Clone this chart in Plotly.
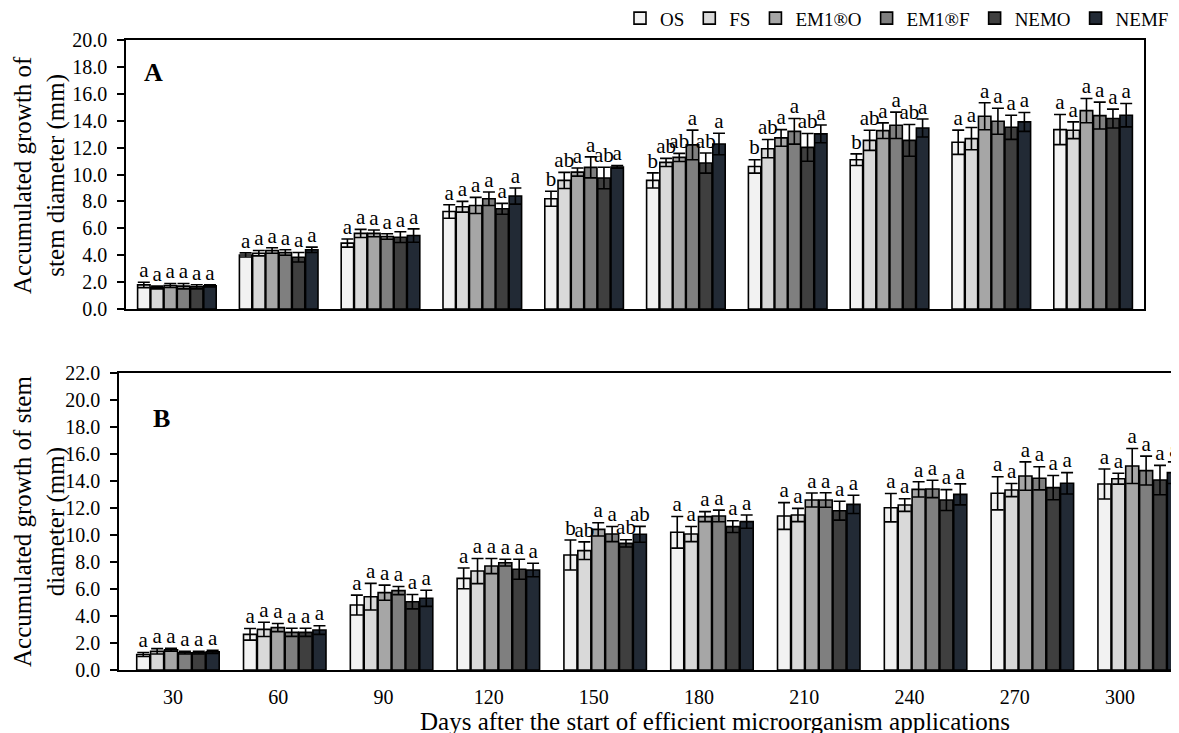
import plotly.graph_objects as go

# page body has an 8px margin: figure occupies 8..1179 x 8..733 of the window
OFF = 8
W, H = 1179 - OFF, 733 - OFF
days = ["30", "60", "90", "120", "150", "180", "210", "240", "270", "300"]
series = ["OS", "FS", "EM1®O", "EM1®F", "NEMO", "NEMF"]
colors = ["#f2f2f2", "#d9d9d9", "#a6a6a6", "#7f7f7f", "#3f3f3f", "#222a35"]

# Panel A: means
A_OS   = [1.79, 4.02, 4.90, 7.25, 8.20, 9.56, 10.60, 11.10, 12.40, 13.34]
A_FS   = [1.60, 4.15, 5.62, 7.60, 9.56, 10.90, 11.92, 12.54, 12.67, 13.29]
A_EM1O = [1.75, 4.35, 5.62, 7.70, 10.18, 11.27, 12.72, 13.26, 14.33, 14.75]
A_EM1F = [1.70, 4.20, 5.39, 8.20, 10.53, 12.20, 13.21, 13.66, 13.96, 14.38]
A_NEMO = [1.65, 3.85, 5.34, 7.45, 9.74, 10.85, 12.02, 12.54, 13.51, 14.16]
A_NEMF = [1.72, 4.40, 5.46, 8.40, 10.56, 12.27, 13.02, 13.46, 13.91, 14.41]
# Panel A: errors
A_OS_e   = [0.20, 0.15, 0.30, 0.50, 0.56, 0.56, 0.50, 0.43, 0.90, 1.12]
A_FS_e   = [0.10, 0.20, 0.30, 0.40, 0.60, 0.30, 0.68, 0.75, 0.83, 0.62]
A_EM1O_e = [0.15, 0.20, 0.25, 0.60, 0.30, 0.30, 0.62, 0.58, 1.00, 0.90]
A_EM1F_e = [0.20, 0.20, 0.20, 0.50, 0.78, 1.10, 0.95, 0.98, 0.97, 1.00]
A_NEMO_e = [0.15, 0.35, 0.40, 0.40, 0.80, 0.75, 1.03, 1.18, 0.90, 0.70]
A_NEMF_e = [0.08, 0.20, 0.50, 0.60, 0.10, 0.80, 0.66, 0.67, 0.70, 0.87]
# Panel A: letters
A_OS_l   = ["a", "a", "a", "a", "b", "b", "b", "b", "a", "a"]
A_FS_l   = ["a", "a", "a", "a", "ab", "ab", "ab", "ab", "a", "a"]
A_EM1O_l = ["a", "a", "a", "a", "a", "ab", "a", "a", "a", "a"]
A_EM1F_l = ["a", "a", "a", "a", "a", "a", "a", "a", "a", "a"]
A_NEMO_l = ["a", "a", "a", "a", "ab", "ab", "ab", "ab", "a", "a"]
A_NEMF_l = ["a", "a", "a", "a", "a", "a", "a", "a", "a", "a"]

# Panel B: means
B_OS   = [1.15, 2.64, 4.81, 6.79, 8.52, 10.20, 11.41, 12.02, 13.09, 13.78]
B_FS   = [1.38, 3.01, 5.43, 7.33, 8.84, 10.07, 11.48, 12.22, 13.33, 14.17]
B_EM1O = [1.50, 3.14, 5.73, 7.70, 10.42, 11.36, 12.59, 13.38, 14.37, 15.11]
B_EM1F = [1.28, 2.79, 5.88, 7.95, 10.07, 11.41, 12.59, 13.41, 14.20, 14.77]
B_NEMO = [1.28, 2.79, 5.06, 7.46, 9.38, 10.62, 11.80, 12.59, 13.51, 14.07]
B_NEMF = [1.34, 2.96, 5.31, 7.41, 10.05, 10.99, 12.27, 13.01, 13.83, 14.62]
# Panel B: errors
B_OS_e   = [0.15, 0.43, 0.74, 0.77, 1.11, 1.17, 0.99, 1.05, 1.23, 1.11]
B_FS_e   = [0.20, 0.53, 0.99, 0.93, 0.65, 0.56, 0.49, 0.47, 0.49, 0.40]
B_EM1O_e = [0.10, 0.30, 0.56, 0.56, 0.49, 0.37, 0.52, 0.56, 1.05, 1.30]
B_EM1F_e = [0.10, 0.30, 0.30, 0.25, 0.56, 0.43, 0.54, 0.64, 0.86, 1.07]
B_NEMO_e = [0.10, 0.30, 0.53, 0.74, 0.27, 0.44, 0.70, 0.77, 0.90, 1.09]
B_NEMF_e = [0.12, 0.32, 0.60, 0.50, 0.59, 0.49, 0.68, 0.78, 0.79, 0.80]
# Panel B: letters
B_OS_l   = ["a", "a", "a", "a", "b", "a", "a", "a", "a", "a"]
B_FS_l   = ["a", "a", "a", "a", "ab", "a", "a", "a", "a", "a"]
B_EM1O_l = ["a", "a", "a", "a", "a", "a", "a", "a", "a", "a"]
B_EM1F_l = ["a", "a", "a", "a", "a", "a", "a", "a", "a", "a"]
B_NEMO_l = ["a", "a", "a", "a", "ab", "a", "a", "a", "a", "a"]
B_NEMF_l = ["a", "a", "a", "a", "ab", "a", "a", "a", "a", "a"]

A_means = [A_OS, A_FS, A_EM1O, A_EM1F, A_NEMO, A_NEMF]
A_errs = [A_OS_e, A_FS_e, A_EM1O_e, A_EM1F_e, A_NEMO_e, A_NEMF_e]
A_lets = [A_OS_l, A_FS_l, A_EM1O_l, A_EM1F_l, A_NEMO_l, A_NEMF_l]
B_means = [B_OS, B_FS, B_EM1O, B_EM1F, B_NEMO, B_NEMF]
B_errs = [B_OS_e, B_FS_e, B_EM1O_e, B_EM1F_e, B_NEMO_e, B_NEMF_e]
B_lets = [B_OS_l, B_FS_l, B_EM1O_l, B_EM1F_l, B_NEMO_l, B_NEMF_l]

FONT = "Liberation Serif, Times New Roman, serif"

def px(x):
    return (x - OFF) / W

def py(y):
    return 1 - (y - OFF) / H

fig = go.Figure()

for panel, (means, errs, lets, xa, ya) in enumerate([
        (A_means, A_errs, A_lets, "x", "y"),
        (B_means, B_errs, B_lets, "x2", "y2")]):
    for i, name in enumerate(series):
        fig.add_trace(go.Bar(
            x=days, y=means[i], name=name, xaxis=xa, yaxis=ya,
            marker=dict(color=colors[i], line=dict(color="black", width=1.6)),
            error_y=dict(type="data", array=errs[i], color="black",
                         thickness=1.6, width=6),
            offsetgroup=name, alignmentgroup="g%d" % panel,
            showlegend=(panel == 0), legendgroup=name,
        ))
    for i, name in enumerate(series):
        tops = [m + e for m, e in zip(means[i], errs[i])]
        fig.add_trace(go.Scatter(
            x=days, y=tops, text=lets[i], mode="text", xaxis=xa, yaxis=ya,
            textposition="top center", cliponaxis=False,
            textfont=dict(family=FONT, size=21, color="black"),
            offsetgroup=name, alignmentgroup="s%d" % panel,
            showlegend=False, hoverinfo="skip",
        ))

# helper trace so the label axis of panel B carries the categories
fig.add_trace(go.Scatter(x=days, y=[None] * len(days), xaxis="x3", yaxis="y2",
                         mode="markers", showlegend=False, hoverinfo="skip"))

axis_common = dict(showline=True, linecolor="black", linewidth=1.5, mirror=True,
                   showgrid=False, zeroline=False, automargin=False)

fig.update_layout(
    width=W, height=H,
    margin=dict(l=0, r=0, t=0, b=0, autoexpand=False),
    paper_bgcolor="white", plot_bgcolor="white",
    barmode="group", bargap=0.22, bargroupgap=0.06,
    scattermode="group", scattergap=0.22,
    font=dict(family=FONT, color="black", size=20),
    showlegend=True,
    legend=dict(orientation="h", x=px(1174), xanchor="right", y=1.012, yanchor="top",
                font=dict(family=FONT, size=19), itemwidth=30,
                traceorder="normal", bgcolor="rgba(0,0,0,0)"),
    xaxis=dict(domain=[px(126), px(1144)], anchor="y", type="category",
               range=[-0.5, 9.5], showticklabels=False, ticks="", **axis_common),
    yaxis=dict(domain=[py(309), py(40)], anchor="x", range=[0, 20], dtick=2,
               tickformat=".1f", ticks="outside", ticklen=7, tickwidth=1.5,
               tickcolor="black", ticklabelstandoff=6,
               tickfont=dict(family=FONT, size=20), **axis_common),
    xaxis2=dict(domain=[px(119), 1.0], anchor="y2", type="category",
                range=[-0.552, 9.373], showticklabels=False, ticks="", **axis_common),
    yaxis2=dict(domain=[py(670), py(373)], anchor="x2", range=[0, 22], dtick=2,
                tickformat=".1f", ticks="outside", ticklen=7, tickwidth=1.5,
                tickcolor="black", ticklabelstandoff=6,
                tickfont=dict(family=FONT, size=20), **axis_common),
    xaxis3=dict(overlaying="x2", anchor="y2", type="category",
                range=[-0.513, 9.561], showline=False, showgrid=False,
                zeroline=False, ticks="", ticklabelstandoff=13,
                tickfont=dict(family=FONT, size=20), automargin=False),
)

def note(text, x, y, size, bold=False, angle=0):
    return dict(text=("<b>%s</b>" % text) if bold else text, x=px(x), y=py(y),
                xref="paper", yref="paper", xanchor="center", yanchor="middle",
                showarrow=False, textangle=angle,
                font=dict(family=FONT, size=size, color="black"))

ann = [
    note("A", 153, 72, 26, bold=True),
    note("B", 161, 418, 26, bold=True),
    note("Accumulated growth of<br>stem diameter (mm)", 39, 175, 25, angle=-90),
    note("Accumulated growth of stem<br>diameter (mm)", 39, 522, 25, angle=-90),
    note("Days after the start of efficient microorganism applications", 715, 721, 25),
]
fig.update_layout(annotations=ann)

fig.write_html("out.html")
